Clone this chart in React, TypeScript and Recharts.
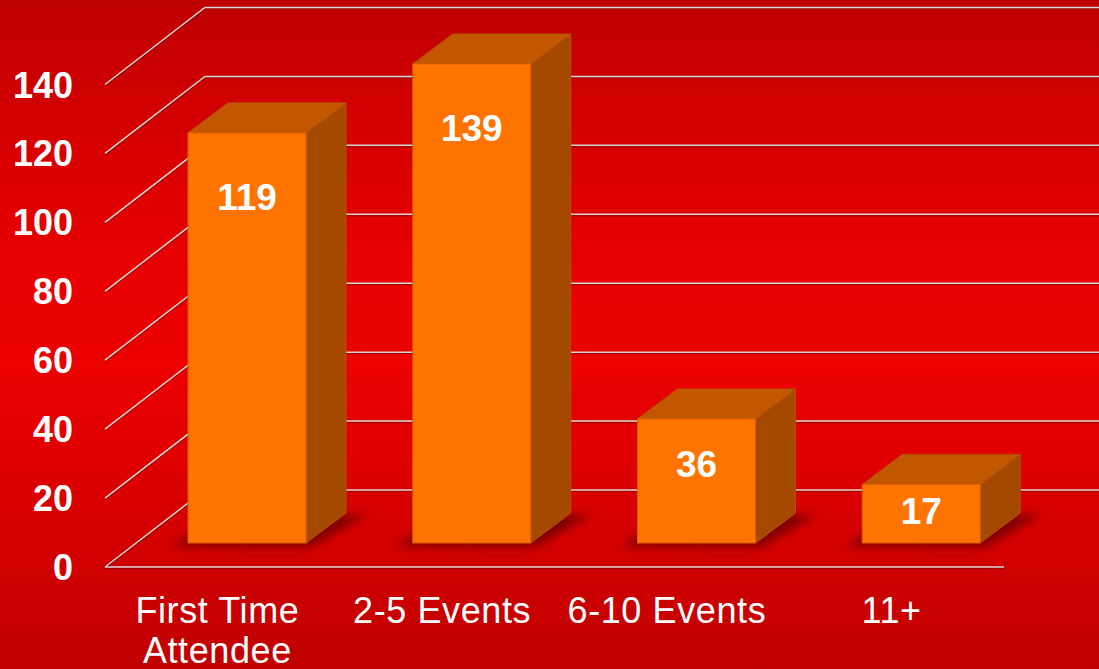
import { BarChart, Bar, XAxis, YAxis, CartesianGrid, LabelList } from 'recharts'

// attendance frequency, 3D-style columns on a red backdrop
const categories = ['First Time Attendee', '2-5 Events', '6-10 Events', '11+']
const attendees = [119, 139, 36, 17]
const yTicks = [0, 20, 40, 60, 80, 100, 120, 140]

const data = categories.map((name, i) => ({ name, value: attendees[i] }))

const W = 1099
const H = 669
const FONT = "Arial, 'Liberation Sans', sans-serif"

// front plane -> column plane shift, and column depth
const SHIFT_X = 30
const SHIFT_Y = 24
const DEPTH_X = 40
const DEPTH_Y = 30
// floor / wall depth for the grid
const WALL_X = 100
const WALL_Y = 77

const GridLine = (p: any) => {
    const { x1, y1, x2 } = p
    const bottom = p.y != null && p.height != null ? p.y + p.height : 567
    const isFloor = Math.abs(y1 - bottom) < 1
    const pts = `${x1},${y1} ${x1 + WALL_X},${y1 - WALL_Y} ${W},${y1 - WALL_Y}`
    return (
        <g key={p.key}>
            <polyline points={pts} fill="none" stroke="rgba(90,0,0,0.45)" strokeWidth={1.2} transform="translate(0,1.5)" />
            <polyline points={pts} fill="none" stroke="#d6d6d6" strokeWidth={1.5} />
            {isFloor && (
                <>
                    <line x1={x1} y1={y1 + 1.5} x2={x2} y2={y1 + 1.5} stroke="rgba(90,0,0,0.45)" strokeWidth={1.2} />
                    <line x1={x1} y1={y1} x2={x2} y2={y1} stroke="#d6d6d6" strokeWidth={1.5} />
                </>
            )}
        </g>
    )
}

const Column3D = (props: any) => {
    const { x, y, width, height, index } = props
    const fx = x + SHIFT_X
    const top = y - SHIFT_Y
    const bottom = y + height - SHIFT_Y
    const right = fx + width
    const fid = `colshadow-${index}`
    return (
        <g>
            <defs>
                <filter id={fid} x="-30%" y="-100%" width="160%" height="300%">
                    <feGaussianBlur stdDeviation="5" />
                </filter>
            </defs>
            <polygon
                points={`${fx - 16},${bottom + 3} ${right + 4},${bottom + 4} ${right + DEPTH_X + 20},${bottom - DEPTH_Y + 2} ${fx + DEPTH_X},${bottom - DEPTH_Y}`}
                fill="#600000"
                opacity={0.75}
                filter={`url(#${fid})`}
            />
            {/* side */}
            <polygon
                points={`${right},${top} ${right + DEPTH_X},${top - DEPTH_Y} ${right + DEPTH_X},${bottom - DEPTH_Y} ${right},${bottom}`}
                fill="#a54800"
                stroke="#b85200"
                strokeWidth={1}
            />
            {/* top */}
            <polygon
                points={`${fx},${top} ${fx + DEPTH_X},${top - DEPTH_Y} ${right + DEPTH_X},${top - DEPTH_Y} ${right},${top}`}
                fill="#c25700"
                stroke="#b85200"
                strokeWidth={1}
            />
            {/* front */}
            <rect x={fx} y={top} width={width} height={bottom - top} fill="#ff7300" stroke="#d86000" strokeWidth={1} />
        </g>
    )
}

const ValueLabel = (props: any) => {
    const { x, y, width, height, value } = props
    const cx = x + SHIFT_X + width / 2
    const top = y - SHIFT_Y
    const off = Math.min(10 + 0.28 * height, 64)
    return (
        <text x={cx} y={top + off + 13} textAnchor="middle" fill="#ffffff" fontSize={37} fontWeight="bold" fontFamily={FONT}>
            {value}
        </text>
    )
}

const wrapLabel = (s: string, max: number) => {
    const lines: string[] = []
    let cur = ''
    s.split(' ').forEach((w) => {
        const next = cur ? `${cur} ${w}` : w
        if (next.length > max && cur) {
            lines.push(cur)
            cur = w
        } else cur = next
    })
    if (cur) lines.push(cur)
    return lines
}

const CategoryTick = (props: any) => {
    const { x, y, payload } = props
    const lines = wrapLabel(String(payload.value), 11)
    return (
        <text x={x} y={y} textAnchor="middle" fill="#ffffff" fontSize={36} letterSpacing={0.6} fontFamily={FONT}>
            {lines.map((l, i) => (
                <tspan key={i} x={x} y={y + 56 + i * 40}>
                    {l}
                </tspan>
            ))}
        </text>
    )
}

const ValueTick = (props: any) => {
    const { x, y, payload } = props
    return (
        <text x={x} y={y + 13} textAnchor="end" fill="#ffffff" fontSize={36} fontWeight="bold" fontFamily={FONT}>
            {payload.value}
        </text>
    )
}

export default function App() {
    return (
        <div
            style={{
                position: 'absolute',
                left: 0,
                top: 0,
                width: W,
                height: H,
                background: 'linear-gradient(to bottom, #bf0000 0%, #d80000 22%, #e90000 40%, #ec0000 55%, #dc0000 72%, #c00000 100%)',
            }}
        >
            <BarChart width={W} height={H} data={data} margin={{ top: 84.5, right: 95, left: 0, bottom: 0 }} barSize={118}>
                <CartesianGrid horizontal={GridLine} vertical={false} />
                <XAxis dataKey="name" height={102} axisLine={false} tickLine={false} tickSize={0} tickMargin={0} tick={<CategoryTick />} interval={0} />
                <YAxis
                    width={105}
                    domain={[0, 140]}
                    ticks={yTicks}
                    axisLine={false}
                    tickLine={false}
                    tickSize={0}
                    tickMargin={32}
                    tick={<ValueTick />}
                />
                <Bar dataKey="value" shape={<Column3D />} isAnimationActive={false}>
                    <LabelList dataKey="value" content={<ValueLabel />} />
                </Bar>
            </BarChart>
        </div>
    )
}
